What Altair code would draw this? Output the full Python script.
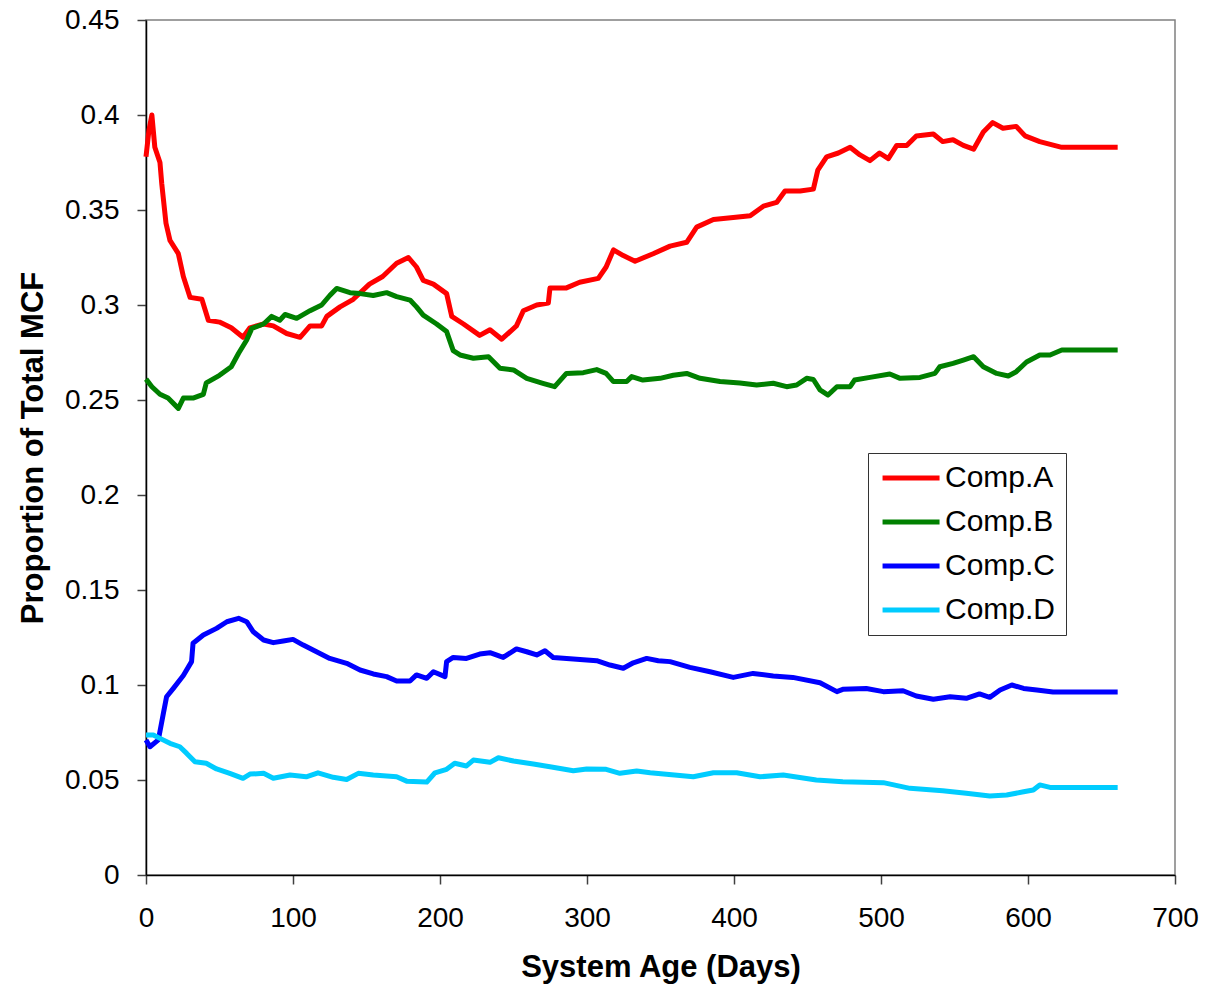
import altair as alt
import pandas as pd

# Share of total mean cumulative function (MCF) by component over system age
series_names = ["Comp.A", "Comp.B", "Comp.C", "Comp.D"]
series_colors = ["#FF0000", "#008000", "#0000FF", "#00CCFF"]

days_a = [0, 2, 4, 6, 9.5, 10.7, 13.6, 16.3, 22, 25.4, 30, 38, 42.4, 50, 58, 66, 70.7, 80, 86.6, 95.7,
          104.8, 111.6, 119.5, 123, 132, 141, 152, 161, 170.5, 178.5, 184, 188.6, 195.5, 204.5, 208,
          216, 227, 234, 242, 252, 256.7, 265.8, 273.7, 274.8, 286, 295, 307.7, 313, 318, 324.7,
          332.7, 345, 356.5, 367.8, 374.6, 386, 399.5, 411, 420, 429, 434.7, 445, 454, 457, 463, 471,
          479, 485.7, 492.5, 499, 505, 510.7, 517.5, 524, 535.6, 542, 549, 556, 563, 569.6, 576, 583,
          592, 598, 608, 623, 661]
vals_a = [0.378, 0.392, 0.400, 0.383, 0.375, 0.364, 0.343, 0.334, 0.327, 0.315, 0.304, 0.303, 0.292,
          0.291, 0.288, 0.283, 0.288, 0.290, 0.289, 0.285, 0.283, 0.289, 0.289, 0.294, 0.299, 0.303,
          0.311, 0.315, 0.322, 0.325, 0.320, 0.313, 0.311, 0.306, 0.294, 0.290, 0.284, 0.287, 0.282,
          0.289, 0.297, 0.300, 0.301, 0.309, 0.309, 0.312, 0.314, 0.320, 0.329, 0.326, 0.323, 0.327,
          0.331, 0.333, 0.341, 0.345, 0.346, 0.347, 0.352, 0.354, 0.360, 0.360, 0.361, 0.371, 0.378,
          0.380, 0.383, 0.379, 0.376, 0.380, 0.377, 0.384, 0.384, 0.389, 0.390, 0.386, 0.387, 0.384,
          0.382, 0.391, 0.396, 0.393, 0.394, 0.389, 0.386, 0.383, 0.383]

days_b = [0, 4, 9.5, 15, 22, 25.4, 32, 39, 41, 50, 58, 63, 68.5, 72, 80, 85.5, 91, 94.6, 102.5, 111.6,
          119.5, 125, 129.7, 138.8, 145.6, 154.6, 163.7, 170.5, 179.6, 184, 188.6, 197.7, 204.5, 209,
          213.6, 222.7, 233, 240.8, 250, 259, 270, 278, 286, 297.5, 306.6, 313, 318, 327, 330.4, 338,
          349.7, 358.7, 367.8, 376.9, 390.5, 404, 415.4, 426.7, 435.8, 442.6, 449.4, 454, 458.5, 464,
          470, 479, 482, 492.5, 506, 513, 526.5, 536.7, 540, 549, 556, 563, 569.6, 578.7, 586.6, 592,
          599, 608, 615, 623, 661]
vals_b = [0.261, 0.257, 0.253, 0.251, 0.2456, 0.251, 0.251, 0.253, 0.259, 0.263, 0.2675, 0.2746,
          0.2816, 0.2877, 0.290, 0.294, 0.292, 0.295, 0.293, 0.297, 0.300, 0.305, 0.3087, 0.3065,
          0.306, 0.305, 0.3065, 0.3044, 0.3026, 0.299, 0.2947, 0.290, 0.286, 0.276, 0.2737, 0.272,
          0.2728, 0.2667, 0.2658, 0.2614, 0.2588, 0.257, 0.264, 0.2644, 0.266, 0.264, 0.2597, 0.2597,
          0.2623, 0.2605, 0.2614, 0.263, 0.264, 0.2614, 0.2597, 0.259, 0.2579, 0.2588, 0.257, 0.2579,
          0.2614, 0.2608, 0.2553, 0.2526, 0.257, 0.257, 0.2605, 0.2619, 0.2637, 0.2614, 0.2619, 0.264,
          0.2675, 0.2693, 0.271, 0.2728, 0.2675, 0.264, 0.2626, 0.2649, 0.270, 0.2737, 0.2737, 0.2763,
          0.2763]

days_c = [0, 2.7, 8.4, 11.8, 14, 18.6, 25.4, 31, 32, 39, 48, 55, 63, 68.5, 73, 80, 86.6, 93.4, 100,
          107, 116, 125, 136.5, 145.6, 154.6, 163.7, 170.5, 179.6, 184, 191, 195.5, 203.4, 204.5, 209,
          218, 227, 234, 243, 252, 259, 265.8, 271.4, 277, 290.7, 306.6, 315.6, 324.7, 331.5, 340.6,
          348.5, 356.5, 370, 383.7, 399.5, 413, 426.7, 440, 458.5, 470, 474, 490, 501.6, 515, 524,
          535.6, 547, 558, 567, 574, 581, 589, 597, 606, 617, 661]
vals_c = [0.0711, 0.0675, 0.0711, 0.085, 0.0938, 0.0982, 0.105, 0.1123, 0.122, 0.1263, 0.1298,
          0.1333, 0.1351, 0.1333, 0.128, 0.1237, 0.1223, 0.1232, 0.124, 0.121, 0.1175, 0.114, 0.1114,
          0.1079, 0.1058, 0.1044, 0.1021, 0.1021, 0.1053, 0.1035, 0.107, 0.1044, 0.1123, 0.1145, 0.114,
          0.1163, 0.117, 0.1145, 0.119, 0.1175, 0.1158, 0.118, 0.1145, 0.1137, 0.1128, 0.1105, 0.1088,
          0.1117, 0.114, 0.1128, 0.1123, 0.1093, 0.107, 0.104, 0.1061, 0.1047, 0.104, 0.1012, 0.0965,
          0.0977, 0.0982, 0.0965, 0.097, 0.0942, 0.0925, 0.0938, 0.093, 0.0953, 0.0935, 0.0974, 0.100,
          0.0982, 0.0974, 0.0963, 0.0963]

days_d = [0, 5, 9.5, 16.3, 23, 27.7, 33.3, 41, 48, 57, 66, 70.7, 80, 86.6, 98, 109, 117, 127.4,
          136.5, 144.4, 154.6, 170.5, 177.3, 191, 196.6, 204.5, 210, 218, 222.7, 234, 239.7, 250,
          263.5, 274.8, 290.7, 299.8, 313, 322.4, 333.8, 343, 372.3, 386, 401.8, 417.7, 433.5, 456,
          474, 501.6, 519.7, 542, 558, 574, 585.5, 597, 603.6, 608, 615, 661]
vals_d = [0.0737, 0.0737, 0.0719, 0.0693, 0.0675, 0.064, 0.0596, 0.0588, 0.0558, 0.0535, 0.0509,
          0.0531, 0.0535, 0.0509, 0.0526, 0.0517, 0.0538, 0.0514, 0.0503, 0.0535, 0.0526, 0.0517,
          0.0494, 0.0489, 0.0538, 0.0556, 0.0588, 0.0574, 0.0605, 0.0593, 0.0617, 0.060, 0.0584,
          0.057, 0.0549, 0.0558, 0.0556, 0.0535, 0.0547, 0.0538, 0.0517, 0.0538, 0.0538, 0.0517,
          0.0526, 0.050, 0.0491, 0.0486, 0.0456, 0.0443, 0.043, 0.0416, 0.0421, 0.0438, 0.0447,
          0.0474, 0.0461, 0.0461]

x_ticks = [0, 100, 200, 300, 400, 500, 600, 700]
y_ticks = [0, 0.05, 0.1, 0.15, 0.2, 0.25, 0.3, 0.35, 0.4, 0.45]

frames = []
for i, (name, d, v) in enumerate(zip(series_names,
                                     [days_a, days_b, days_c, days_d],
                                     [vals_a, vals_b, vals_c, vals_d])):
    frames.append(pd.DataFrame({"day": d, "value": v, "series": name, "order": i}))
df = pd.concat(frames, ignore_index=True)

FONT = "Liberation Sans"

chart = (
    alt.Chart(df)
    .mark_line(strokeWidth=5, strokeJoin="round")
    .encode(
        x=alt.X("day:Q",
                scale=alt.Scale(domain=[0, 700], nice=False),
                axis=alt.Axis(title="System Age (Days)", values=x_ticks, format="d",
                              labelFlush=False, labelPadding=20, titlePadding=20)),
        y=alt.Y("value:Q",
                scale=alt.Scale(domain=[0, 0.45], nice=False),
                axis=alt.Axis(title="Proportion of Total MCF", values=y_ticks, format=".2~f",
                              labelPadding=18, titlePadding=15)),
        color=alt.Color("series:N",
                        scale=alt.Scale(domain=series_names, range=series_colors),
                        legend=alt.Legend(title=None, orient="none", legendX=722, legendY=433,
                                          direction="vertical",
                                          symbolType="M-1.1,0H4.9", symbolSize=361,
                                          symbolStrokeWidth=5, labelFontSize=30, labelFont=FONT,
                                          labelColor="black", labelOffset=37, rowPadding=14,
                                          padding=10, strokeColor="#333333", fillColor="white")),
        detail="series:N",
        order="order:Q",
    )
    .properties(
        width=1029,
        height=855,
        autosize=alt.AutoSizeParams(type="none"),
        padding={"left": 146, "top": 20, "right": 33, "bottom": 112},
        background="white",
    )
    .configure_view(stroke="#808080", strokeWidth=1.5)
    .configure_axis(
        grid=False,
        domainColor="black",
        domainWidth=1.5,
        tickColor="#404040",
        tickWidth=1.5,
        tickSize=9,
        labelFont=FONT,
        labelFontSize=28,
        labelColor="black",
        titleFont=FONT,
        titleFontSize=31,
        titleFontWeight="bold",
        titleColor="black",
        labelOverlap=False,
    )
)

chart.save("out.html", embed_options={"renderer": "svg", "actions": False})
